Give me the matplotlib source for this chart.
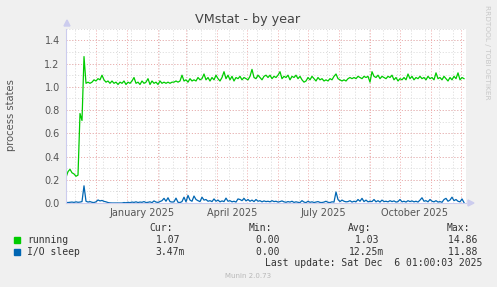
import numpy as np
import matplotlib
matplotlib.use("Agg")
import matplotlib.pyplot as plt
import matplotlib.dates as mdates
from matplotlib.patches import Rectangle, Polygon
import datetime as dt

# ---------------- data ----------------
title = "VMstat - by year"
ylabel = "process states"
series_names = ["running", "I/O sleep"]
series_colors = ["#00cc00", "#0066b3"]

# one sample every 2 days starting at the left edge of the year view
running = [
    0.22, 0.27, 0.29, 0.26, 0.25, 0.23, 0.24, 0.77, 0.71, 1.26,
    1.03, 1.04, 1.03, 1.04, 1.06, 1.05, 1.07, 1.06, 1.10, 1.06,
    1.04, 1.05, 1.03, 1.05, 1.03, 1.04, 1.02, 1.04, 1.03, 1.05,
    1.02, 1.04, 1.03, 1.05, 1.08, 1.03, 1.04, 1.02, 1.05, 1.03,
    1.04, 1.07, 1.02, 1.05, 1.03, 1.04, 1.02, 1.05, 1.03, 1.04,
    1.03, 1.04, 1.03, 1.04, 1.04, 1.05, 1.04, 1.05, 1.10, 1.05,
    1.06, 1.04, 1.07, 1.05, 1.06, 1.05, 1.08, 1.06, 1.07, 1.11,
    1.06, 1.08, 1.05, 1.08, 1.06, 1.10, 1.07, 1.05, 1.08, 1.13,
    1.07, 1.10, 1.06, 1.09, 1.05, 1.08, 1.07, 1.09, 1.06, 1.08,
    1.07, 1.06, 1.09, 1.15, 1.08, 1.07, 1.10, 1.08, 1.06, 1.09,
    1.10, 1.08, 1.10, 1.07, 1.09, 1.08, 1.10, 1.13, 1.07, 1.09,
    1.08, 1.10, 1.06, 1.09, 1.08, 1.10, 1.07, 1.09, 1.06, 1.04,
    1.05, 1.08, 1.06, 1.09, 1.07, 1.05, 1.08, 1.06, 1.07, 1.05,
    1.06, 1.05, 1.07, 1.06, 1.09, 1.11, 1.07, 1.06, 1.05, 1.06,
    1.05, 1.07, 1.08, 1.07, 1.08, 1.07, 1.09, 1.08, 1.07, 1.09,
    1.08, 1.09, 1.04, 1.13, 1.09, 1.08, 1.10, 1.07, 1.09, 1.08,
    1.07, 1.09, 1.08, 1.10, 1.06, 1.08, 1.05, 1.07, 1.06, 1.08,
    1.06, 1.11, 1.07, 1.09, 1.06, 1.08, 1.07, 1.09, 1.07, 1.08,
    1.06, 1.09, 1.07, 1.08, 1.06, 1.12, 1.07, 1.08, 1.06, 1.09,
    1.07, 1.05, 1.08, 1.06, 1.09, 1.07, 1.12, 1.06, 1.08, 1.07,
]
io_sleep = [
    0.005, 0.004, 0.006, 0.008, 0.005, 0.010, 0.006, 0.008, 0.012, 0.148,
    0.015, 0.008, 0.012, 0.006, 0.004, 0.010, 0.026, 0.018, 0.022, 0.014,
    0.010, 0.004, 0.001, 0.0, 0.0, 0.0, 0.0, 0.0, 0.0, 0.004,
    0.002, 0.006, 0.003, 0.008, 0.005, 0.010, 0.004, 0.008, 0.006, 0.012,
    0.004, 0.006, 0.010, 0.003, 0.018, 0.008, 0.005, 0.012, 0.020, 0.040,
    0.015, 0.045, 0.012, 0.008, 0.010, 0.042, 0.006, 0.004, 0.012, 0.050,
    0.010, 0.065, 0.025, 0.015, 0.060, 0.030, 0.020, 0.012, 0.050, 0.025,
    0.030, 0.015, 0.020, 0.012, 0.035, 0.015, 0.025, 0.010, 0.018, 0.012,
    0.042, 0.015, 0.020, 0.010, 0.015, 0.008, 0.035, 0.030, 0.020, 0.040,
    0.018, 0.030, 0.015, 0.025, 0.012, 0.030, 0.015, 0.020, 0.010, 0.018,
    0.012, 0.015, 0.010, 0.020, 0.012, 0.015, 0.008, 0.012, 0.018, 0.010,
    0.006, 0.012, 0.008, 0.015, 0.005, 0.010, 0.006, 0.004, 0.020, 0.008,
    0.003, 0.015, 0.006, 0.010, 0.004, 0.008, 0.012, 0.005, 0.004, 0.008,
    0.015, 0.006, 0.004, 0.010, 0.008, 0.095, 0.030, 0.012, 0.025, 0.015,
    0.010, 0.012, 0.020, 0.008, 0.015, 0.010, 0.030, 0.015, 0.040, 0.012,
    0.025, 0.010, 0.015, 0.012, 0.030, 0.010, 0.020, 0.008, 0.025, 0.012,
    0.015, 0.010, 0.020, 0.012, 0.018, 0.008, 0.012, 0.030, 0.010, 0.015,
    0.008, 0.020, 0.012, 0.018, 0.010, 0.015, 0.008, 0.025, 0.045, 0.015,
    0.020, 0.010, 0.030, 0.015, 0.010, 0.020, 0.008, 0.012, 0.006, 0.030,
    0.040, 0.015, 0.025, 0.050, 0.020, 0.030, 0.015, 0.010, 0.035, 0.004,
]

yticks = [0.0, 0.2, 0.4, 0.6, 0.8, 1.0, 1.2, 1.4]
xtick_labels = ["January 2025", "April 2025", "July 2025", "October 2025"]
xtick_months = [(2025, 1), (2025, 4), (2025, 7), (2025, 10)]

legend_headers = ["Cur:", "Min:", "Avg:", "Max:"]
legend_values = [
    ["1.07", "0.00", "1.03", "14.86"],
    ["3.47m", "0.00", "12.25m", "11.88"],
]
last_update = "Last update: Sat Dec  6 01:00:03 2025"
footer = "Munin 2.0.73"
side_text = "RRDTOOL / TOBI OETIKER"

end_time = dt.datetime(2025, 12, 6, 1, 0, 3)
start_time = end_time - dt.timedelta(days=400)

# ---------------- figure ----------------
W, H = 497, 287
fig = plt.figure(figsize=(W / 100, H / 100), dpi=100, facecolor="#f0f0f0")

def fx(x):
    return x / W

def fy(y):
    return 1 - y / H

L, R, T, B = 66, 466, 28.7, 203
ax = fig.add_axes([fx(L), fy(B), fx(R) - fx(L), fy(T) - fy(B)])
ax.set_facecolor("white")

t_run = [start_time + dt.timedelta(days=2 * i) for i in range(len(running))]
t_io = [start_time + dt.timedelta(days=2 * i) for i in range(len(io_sleep))]

ax.set_xlim(start_time, end_time)
ax.set_ylim(0, 1.5)

# grid lines
minor_col = "#d8d8d8"
major_col = "#eeaaaa"
for v in np.arange(0.1, 1.51, 0.1):
    ax.axhline(v, color=minor_col, lw=0.7, ls=(0, (1, 2)), zorder=1)
for v in yticks[1:]:
    ax.axhline(v, color=major_col, lw=0.7, ls=(0, (1, 2)), zorder=1.5)
d = dt.datetime(2024, 11, 10)
while d < end_time:
    if d > start_time:
        ax.axvline(d, color=minor_col, lw=0.7, ls=(0, (1, 2)), zorder=1)
    d += dt.timedelta(days=14)
y, m = 2024, 11
while True:
    md = dt.datetime(y, m, 1)
    if md > end_time:
        break
    if md > start_time:
        ax.axvline(md, color=major_col, lw=0.7, ls=(0, (1, 2)), zorder=1.5)
    m += 1
    if m > 12:
        m = 1
        y += 1

ax.plot(t_run, running, color=series_colors[0], lw=0.9, zorder=3)
ax.plot(t_io, io_sleep, color=series_colors[1], lw=0.9, zorder=3)

# ticks
ax.set_yticks(yticks)
ax.set_yticklabels([f"{v:.1f}" for v in yticks])
tick_pos = [dt.datetime(yy, mm, 16) for yy, mm in xtick_months]
ax.set_xticks(tick_pos)
ax.set_xticklabels(xtick_labels)
ax.tick_params(axis="both", length=0, labelsize=7, labelcolor="#555555")
ax.tick_params(axis="y", pad=4.5)
ax.tick_params(axis="x", pad=3.5)

for s in ["top", "right"]:
    ax.spines[s].set_visible(False)
for s in ["left", "bottom"]:
    ax.spines[s].set_color("#ccccee")
    ax.spines[s].set_linewidth(0.8)
    ax.spines[s].set_zorder(4)

# axis arrows
fig.patches.append(Polygon([[fx(64), fy(26)], [fx(70), fy(26)], [fx(67), fy(20)]],
                           closed=True, transform=fig.transFigure, color="#ccccee"))
fig.patches.append(Polygon([[fx(468), fy(200)], [fx(468), fy(206)], [fx(474), fy(203)]],
                           closed=True, transform=fig.transFigure, color="#ccccee"))

# texts
fig.text(fx(248), fy(19.5), title, ha="center", va="center", fontsize=9.2, color="#444444")
fig.text(fx(11), fy(115), ylabel, ha="center", va="center", rotation=90, fontsize=7.2, color="#555555")
fig.text(fx(487), fy(5), side_text, ha="center", va="top", rotation=270, fontsize=5.3, color="#c8c8c8")

mono = "DejaVu Sans Mono"
fs = 7.0
tcol = "#333333"
header_x = [149, 249, 348, 447]
for hx, h in zip(header_x, legend_headers):
    fig.text(fx(hx), fy(228), h, ha="left", va="center", family=mono, fontsize=fs, color=tcol)

row_y = [240, 251.7]
val_right = [185, 285, 384, 483]
for ri, (name, col) in enumerate(zip(series_names, series_colors)):
    yy = row_y[ri]
    fig.patches.append(Rectangle((fx(14), fy(yy + 2.8)), fx(5.5), fy(0) - fy(5.5),
                                 transform=fig.transFigure, color=col))
    fig.text(fx(27), fy(yy), name, ha="left", va="center", family=mono, fontsize=fs, color=tcol)
    for rx, v in zip(val_right, legend_values[ri]):
        s = v if v.endswith("m") else v + " "
        fig.text(fx(rx), fy(yy), s, ha="right", va="center", family=mono, fontsize=fs, color=tcol)

fig.text(fx(482), fy(263.3), last_update, ha="right", va="center", family=mono, fontsize=fs, color=tcol)
fig.text(fx(248), fy(276), footer, ha="center", va="center", fontsize=5, color="#b8b8b8")

fig.savefig("out.png", dpi=100, facecolor=fig.get_facecolor())
